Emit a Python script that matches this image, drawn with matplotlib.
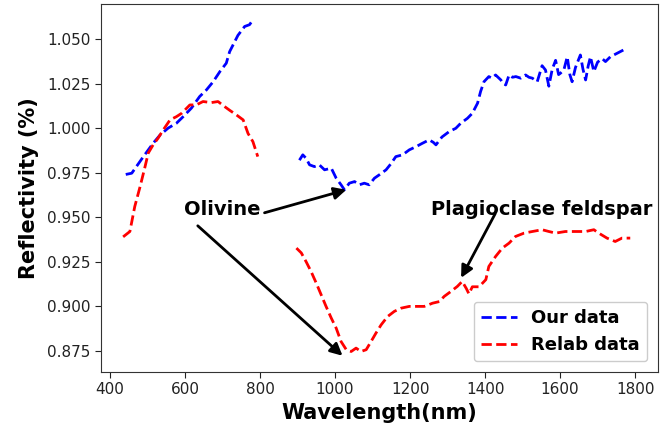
import numpy as np
import matplotlib
matplotlib.use("Agg")
import matplotlib.pyplot as plt

# ---- data ----
our_x1 = [442, 458, 489, 515, 533, 555, 577, 595, 617, 639, 657, 675, 693, 710, 719, 741, 759, 772, 781]
our_y1 = [0.974, 0.9747, 0.984, 0.9915, 0.996, 1.000, 1.0027, 1.0064, 1.0112, 1.0177, 1.0214, 1.026,
          1.0317, 1.0364, 1.0429, 1.052, 1.057, 1.058, 1.0607]
our_x2 = [905, 914, 923, 932, 945, 958, 972, 990, 1003, 1016, 1025, 1038, 1052, 1065, 1078, 1091, 1105,
          1118, 1136, 1149, 1162, 1180, 1198, 1216, 1233, 1251, 1262, 1269, 1285, 1304, 1322, 1335, 1353,
          1366, 1380, 1388, 1397, 1410, 1418, 1428, 1442, 1448, 1455, 1464, 1473, 1482, 1495, 1508, 1517,
          1526, 1539, 1552, 1561, 1570, 1579, 1588, 1596, 1601, 1610, 1619, 1626, 1632, 1641, 1654, 1661,
          1668, 1675, 1681, 1690, 1700, 1712, 1721, 1734, 1778]
our_y2 = [0.982, 0.985, 0.983, 0.9794, 0.9784, 0.9794, 0.9766, 0.9775, 0.9719, 0.9682, 0.9654, 0.9691,
          0.970, 0.9682, 0.9691, 0.9682, 0.9719, 0.9738, 0.9766, 0.980, 0.984, 0.985, 0.9878, 0.9896,
          0.9915, 0.9934, 0.9920, 0.9906, 0.9950, 0.998, 0.9999, 1.0027, 1.0055, 1.0083, 1.014, 1.0205,
          1.026, 1.0289, 1.0280, 1.0298, 1.027, 1.0250, 1.0242, 1.0298, 1.0285, 1.0289, 1.0280, 1.0298,
          1.0285, 1.028, 1.026, 1.0350, 1.0326, 1.0235, 1.0330, 1.038, 1.0300, 1.0308, 1.0326, 1.040,
          1.0300, 1.026, 1.0340, 1.041, 1.0330, 1.027, 1.0350, 1.040, 1.0317, 1.0370, 1.039, 1.0373,
          1.040, 1.0448]

relab_x1 = [435, 453, 466, 480, 493, 502, 515, 528, 542, 560, 577, 591, 613, 630, 648, 670, 688, 706,
            719, 737, 755, 768, 781, 794]
relab_y1 = [0.939, 0.942, 0.956, 0.967, 0.978, 0.986, 0.9906, 0.9943, 0.999, 1.0046, 1.0064, 1.0083,
            1.013, 1.013, 1.0149, 1.0143, 1.0149, 1.012, 1.010, 1.0074, 1.0046, 0.997, 0.9924, 0.984]
relab_x2 = [897, 910, 923, 936, 950, 963, 976, 990, 1003, 1016, 1030, 1043, 1056, 1069, 1083, 1096, 1109,
            1123, 1140, 1158, 1176, 1198, 1216, 1238, 1260, 1278, 1291, 1309, 1326, 1339, 1350, 1357,
            1366, 1384, 1402, 1410, 1428, 1446, 1464, 1481, 1504, 1526, 1552, 1570, 1588, 1614, 1641,
            1668, 1690, 1703, 1725, 1747, 1765, 1787]
relab_y2 = [0.9327, 0.930, 0.925, 0.9196, 0.913, 0.9065, 0.900, 0.8934, 0.8878, 0.8803, 0.8757, 0.8747,
            0.8766, 0.8747, 0.8757, 0.8803, 0.885, 0.8897, 0.8943, 0.8972, 0.899, 0.900, 0.900, 0.900,
            0.9018, 0.9027, 0.9056, 0.9084, 0.9112, 0.914, 0.9100, 0.9070, 0.911, 0.911, 0.915, 0.9224,
            0.928, 0.9327, 0.9355, 0.9392, 0.9411, 0.942, 0.943, 0.942, 0.9411, 0.942, 0.942, 0.942,
            0.943, 0.9411, 0.9383, 0.9364, 0.9383, 0.9383]

series_labels = ["Our data", "Relab data"]
xticks = [400, 600, 800, 1000, 1200, 1400, 1600, 1800]
yticks = [0.875, 0.900, 0.925, 0.950, 0.975, 1.000, 1.025, 1.050]

# annotation anchor points (data coords)
olivine_text = (698, 0.9542)
olivine_arrow1 = ((812, 0.9525), (1030, 0.9654))
olivine_arrow2 = ((634, 0.9452), (1020, 0.8723))
plag_text = (1552, 0.9542)
plag_arrow = ((1427, 0.9520), (1336, 0.9160))

# ---- figure ----
fig = plt.figure(figsize=(6.6, 4.3), dpi=100)
ax = fig.add_axes([101 / 660, (430 - 372) / 430, (658 - 101) / 660, (372 - 4) / 430])

our_x = our_x1 + [np.nan] + our_x2
our_y = our_y1 + [np.nan] + our_y2
relab_x = relab_x1 + [np.nan] + relab_x2
relab_y = relab_y1 + [np.nan] + relab_y2

ax.plot(our_x, our_y, linestyle="--", color="blue", lw=2, label=series_labels[0])
ax.plot(relab_x, relab_y, linestyle="--", color="red", lw=2, label=series_labels[1])

ax.set_xlim(376, 1861)
ax.set_ylim(0.8632, 1.0696)
ax.set_xticks(xticks)
ax.set_yticks(yticks)
ax.set_yticklabels([f"{v:.3f}" for v in yticks])
ax.tick_params(labelsize=11, colors="#222222", length=4)
for s in ax.spines.values():
    s.set_color("#333333")

ax.set_xlabel("Wavelength(nm)", fontsize=15, fontweight="bold", labelpad=4)
ax.set_ylabel("Reflectivity (%)", fontsize=15, fontweight="bold", labelpad=6)

ap = dict(arrowstyle="-|>", color="black", lw=2, mutation_scale=18, shrinkA=0, shrinkB=0)
ax.text(*olivine_text, "Olivine", fontsize=14, fontweight="bold", ha="center", va="center")
ax.annotate("", xy=olivine_arrow1[1], xytext=olivine_arrow1[0], arrowprops=ap)
ax.annotate("", xy=olivine_arrow2[1], xytext=olivine_arrow2[0], arrowprops=ap)
ax.text(*plag_text, "Plagioclase feldspar", fontsize=14, fontweight="bold", ha="center", va="center")
ax.annotate("", xy=plag_arrow[1], xytext=plag_arrow[0], arrowprops=ap)

leg = ax.legend(loc="lower right", prop=dict(size=13, weight="bold"), handlelength=2.0,
                borderaxespad=0.6, framealpha=1.0, edgecolor="#cccccc")

fig.savefig("out.png", dpi=100)
